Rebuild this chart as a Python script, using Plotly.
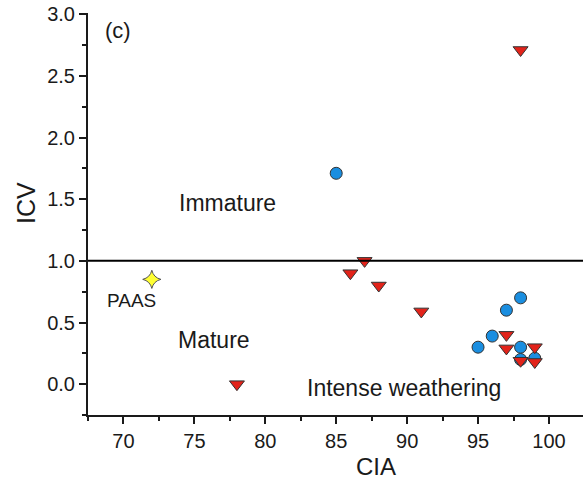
import plotly.graph_objects as go

red_x = [78, 98, 86, 87, 88, 91, 97, 97, 98, 99, 99]
red_y = [0.0, 2.71, 0.9, 1.0, 0.8, 0.59, 0.4, 0.29, 0.19, 0.3, 0.18]
blue_x = [85, 95, 96, 97, 98, 98, 98, 99]
blue_y = [1.71, 0.3, 0.39, 0.6, 0.7, 0.3, 0.2, 0.21]
paas_x = [72]
paas_y = [0.85]
x_ticks = [70, 75, 80, 85, 90, 95, 100]
y_ticks = [0.0, 0.5, 1.0, 1.5, 2.0, 2.5, 3.0]

fig = go.Figure()
fig.add_trace(go.Scatter(x=blue_x, y=blue_y, mode="markers",
                         marker=dict(symbol="circle", size=12, color="#1a8ee0",
                                     line=dict(color="#333333", width=1))))
fig.add_trace(go.Scatter(x=red_x, y=red_y, mode="markers",
                         marker=dict(symbol="triangle-down", size=13, color="#e2231a",
                                     line=dict(color="#333333", width=1))))
fig.add_trace(go.Scatter(x=paas_x, y=paas_y, mode="markers",
                         marker=dict(symbol="star-diamond", size=13, color="#ffff33",
                                     line=dict(color="#555555", width=1))))

fig.add_shape(type="line", xref="paper", x0=0, x1=1, yref="y", y0=1.0, y1=1.0,
              line=dict(color="black", width=2))

font = "Liberation Sans, Arial, sans-serif"
ann = [
    ("(c)", 69.6, 2.87, 22),
    ("Immature", 77.3, 1.47, 23),
    ("Mature", 76.4, 0.36, 23),
    ("PAAS", 70.6, 0.68, 19),
    ("Intense weathering", 89.8, -0.03, 23),
]
for t, x, y, s in ann:
    fig.add_annotation(x=x, y=y, text=t, showarrow=False, xanchor="center", yanchor="middle",
                       font=dict(size=s, color="#1a1a1a", family=font))

# axis titles placed like the reference (slightly off-centre)
fig.add_annotation(xref="x", x=87.8, yref="paper", y=-0.128, text="CIA", showarrow=False,
                   xanchor="center", yanchor="middle", font=dict(size=24, color="#1a1a1a", family=font))
fig.add_annotation(xref="paper", x=-0.125, yref="y", y=1.47, text="ICV", showarrow=False, textangle=-90,
                   xanchor="center", yanchor="middle", font=dict(size=25, color="#1a1a1a", family=font))

axis_common = dict(showgrid=False, zeroline=False, showline=True, linecolor="#1a1a1a",
                   linewidth=2, ticks="outside", ticklen=7, tickwidth=2,
                   tickcolor="#1a1a1a", tickfont=dict(size=20, color="#1a1a1a", family=font))
fig.update_xaxes(range=[67.5, 102.4], tickvals=x_ticks,
                 minor=dict(ticks="outside", ticklen=4, tickwidth=2, tickcolor="#1a1a1a", dtick=2.5, tick0=67.5),
                 **axis_common)
fig.update_yaxes(range=[-0.25, 3.01], tickvals=y_ticks, tickformat=".1f",
                 minor=dict(ticks="outside", ticklen=4, tickwidth=2, tickcolor="#1a1a1a", dtick=0.25, tick0=0),
                 **axis_common)
fig.update_layout(width=585, height=478, showlegend=False,
                  margin=dict(l=88, r=2, t=13, b=63),
                  plot_bgcolor="white", paper_bgcolor="white")
fig.write_html("out.html")
